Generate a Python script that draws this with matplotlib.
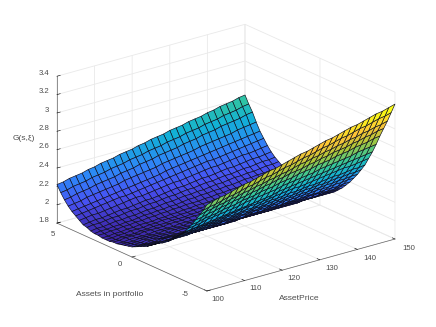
import numpy as np
import matplotlib
matplotlib.use('Agg')
import matplotlib.pyplot as plt
from matplotlib.colors import LinearSegmentedColormap

plt.rcParams['font.family'] = ['Liberation Sans', 'DejaVu Sans']

prices = [100, 101.67, 103.33, 105, 106.67, 108.33, 110, 111.67, 113.33, 115, 116.67, 118.33, 120, 121.67, 123.33, 125,
          126.67, 128.33, 130, 131.67, 133.33, 135, 136.67, 138.33, 140, 141.67, 143.33, 145, 146.67, 148.33, 150]
assets = [5, 4.75, 4.5, 4.25, 4, 3.75, 3.5, 3.25, 3, 2.75, 2.5, 2.25, 2, 1.75, 1.5, 1.25, 1, 0.75, 0.5, 0.25, 0,
          -0.25, -0.5, -0.75, -1, -1.25, -1.5, -1.75, -2, -2.25, -2.5, -2.75, -3, -3.25, -3.5, -3.75, -4, -4.25, -4.5, -4.75, -5]

# G(s,xi) in hundredths, one row per asset value, one column per price
g_table = [
    [222,223,225,226,227,229,230,232,233,234,236,237,238,240,241,243,244,245,247,248,249,251,252,253,255,256,258,259,260,262,263],
    [215,216,218,219,220,222,223,224,226,227,228,230,231,232,234,235,236,238,239,240,242,243,244,246,247,248,250,251,252,254,255],
    [209,210,212,213,214,216,217,218,219,221,222,223,225,226,227,229,230,231,232,234,235,236,238,239,240,242,243,244,245,247,248],
    [204,205,206,208,209,210,211,212,213,215,216,217,218,219,220,222,223,224,225,226,227,229,230,231,232,233,234,236,237,238,239],
    [200,201,202,203,204,205,206,207,208,209,210,211,212,213,214,216,217,218,219,220,221,222,223,224,225,226,227,228,229,230,231],
    [197,198,199,200,201,202,203,204,204,205,206,207,208,209,210,211,212,213,214,215,216,217,217,218,219,220,221,222,223,224,225],
    [194,195,196,196,197,198,199,200,201,202,202,203,204,205,206,207,207,208,209,210,211,212,212,213,214,215,216,216,217,218,219],
    [191,192,193,193,194,195,196,196,197,198,199,199,200,201,202,203,203,204,205,206,206,207,208,209,209,210,211,212,212,213,214],
    [190,191,191,192,193,193,194,195,195,196,197,197,198,199,199,200,201,201,202,203,203,204,205,205,206,207,207,208,209,209,210],
    [188,189,189,190,191,191,192,192,193,194,194,195,196,196,197,198,198,199,199,200,201,201,202,203,203,204,204,205,206,206,207],
    [187,188,188,189,189,190,190,191,192,192,193,193,194,194,195,196,196,197,197,198,198,199,199,200,201,201,202,202,203,203,204],
    [187,187,188,188,189,189,190,190,191,191,192,192,193,193,194,194,194,195,195,196,196,197,197,198,198,199,199,200,200,201,201],
    [186,186,187,187,188,188,189,189,189,190,190,191,191,192,192,193,193,193,194,194,195,195,196,196,196,197,197,198,198,199,199],
    [186,186,187,187,188,188,188,189,189,190,190,190,191,191,192,192,192,193,193,194,194,194,195,195,196,196,196,197,197,198,198],
    [186,186,187,187,187,188,188,189,189,189,190,190,190,191,191,192,192,192,193,193,193,194,194,194,195,195,196,196,196,197,197],
    [187,187,188,188,188,189,189,189,189,190,190,190,191,191,191,192,192,192,192,193,193,193,194,194,194,195,195,195,195,196,196],
    [187,187,188,188,188,188,189,189,189,189,190,190,190,190,191,191,191,192,192,192,192,193,193,193,193,194,194,194,194,195,195],
    [188,188,188,189,189,189,189,190,190,190,190,191,191,191,191,192,192,192,192,192,193,193,193,193,194,194,194,194,194,195,195],
    [189,189,189,190,190,190,190,190,191,191,191,191,191,192,192,192,192,192,193,193,193,193,193,194,194,194,194,194,195,195,195],
    [190,190,190,191,191,191,191,191,192,192,192,192,192,193,193,193,193,193,194,194,194,194,194,195,195,195,195,195,196,196,196],
    [191,191,191,192,192,192,192,192,192,193,193,193,193,193,193,194,194,194,194,194,194,195,195,195,195,195,195,196,196,196,196],
    [193,193,193,193,194,194,194,194,194,194,194,194,194,195,195,195,195,195,195,195,196,196,196,196,196,196,196,197,197,197,197],
    [195,195,195,195,196,196,196,196,196,196,196,196,197,197,197,197,197,197,197,198,198,198,198,198,198,198,199,199,199,199,199],
    [197,197,197,197,197,198,198,198,198,198,198,198,198,198,198,199,199,199,199,199,199,199,199,199,199,200,200,200,200,200,200],
    [199,199,199,199,199,200,200,200,200,200,200,200,200,200,200,201,201,201,201,201,201,201,201,201,201,202,202,202,202,202,202],
    [202,202,202,202,203,203,203,203,203,203,203,203,203,204,204,204,204,204,204,204,205,205,205,205,205,205,205,206,206,206,206],
    [205,205,205,206,206,206,206,206,206,207,207,207,207,207,207,208,208,208,208,208,208,209,209,209,209,209,209,210,210,210,210],
    [208,208,208,209,209,209,209,210,210,210,210,211,211,211,211,212,212,212,212,212,213,213,213,213,214,214,214,214,214,215,215],
    [210,210,211,211,211,212,212,212,213,213,213,214,214,214,215,215,215,216,216,216,217,217,217,218,218,218,219,219,219,220,220],
    [214,214,215,215,216,216,216,217,217,218,218,218,219,219,220,220,220,221,221,222,222,222,223,223,224,224,224,225,225,226,226],
    [217,218,218,219,219,220,220,221,221,222,222,223,223,224,224,225,225,226,226,227,227,228,228,229,229,230,230,231,231,232,232],
    [221,222,222,223,223,224,225,225,226,226,227,228,228,229,229,230,231,231,232,232,233,234,234,235,235,236,237,237,238,238,239],
    [225,226,226,227,228,229,229,230,231,231,232,233,233,234,235,236,236,237,238,238,239,240,240,241,242,243,243,244,245,245,246],
    [229,230,231,232,232,233,234,235,236,237,238,239,239,240,241,242,243,244,245,245,246,247,248,249,250,251,252,252,253,254,255],
    [233,234,235,236,237,238,239,240,241,242,243,244,245,246,247,249,250,251,252,253,254,255,256,257,258,259,260,261,262,263,264],
    [239,240,241,243,244,245,246,247,248,250,251,252,253,254,255,257,258,259,260,261,262,264,265,266,267,268,269,271,272,273,274],
    [245,246,248,249,250,252,253,254,256,257,258,260,261,262,264,265,266,268,269,270,272,273,274,276,277,278,280,281,282,284,285],
    [252,253,255,256,258,259,261,262,263,265,266,268,269,271,272,274,275,276,278,279,281,282,284,285,286,288,289,291,292,294,295],
    [259,261,262,264,265,267,268,270,271,273,274,276,277,279,280,282,284,285,287,288,290,291,293,294,296,297,299,300,302,303,305],
    [266,268,269,271,273,274,276,278,279,281,283,284,286,288,289,291,293,294,296,298,299,301,303,304,306,308,309,311,313,314,316],
    [274,276,278,279,281,283,285,286,288,290,292,293,295,297,299,301,302,304,306,308,309,311,313,315,316,318,320,322,323,325,327],
]

x_ticks = [100, 110, 120, 130, 140, 150]
y_ticks = [-5, 0, 5]
z_ticks = [1.8, 2, 2.2, 2.4, 2.6, 2.8, 3, 3.2, 3.4]
x_labels = ['100', '110', '120', '130', '140', '150']
y_labels = ['-5', '0', '5']
z_labels = ['1.8', '2', '2.2', '2.4', '2.6', '2.8', '3', '3.2', '3.4']

# where the tick labels sit, in pixels from the top left
x_label_px = [(217.7, 299.7), (255.7, 289), (294, 278.7), (332, 269), (370, 258.3), (408.3, 248)]
y_label_px = [(184.7, 295), (119.5, 265), (52.7, 234)]
z_label_py = [220.3, 202.7, 184.3, 165.7, 147, 128.3, 110, 91.3, 73.3]

parula = LinearSegmentedColormap.from_list('parula', [
    (0.2422, 0.1504, 0.6603), (0.2810, 0.3228, 0.9579), (0.1786, 0.5289, 0.9682),
    (0.0689, 0.6948, 0.8394), (0.2161, 0.7843, 0.5923), (0.6720, 0.7793, 0.2227),
    (0.9970, 0.7659, 0.2199), (0.9769, 0.9839, 0.0805)])

S, A = np.meshgrid(prices, assets)
G = np.array(g_table) / 100

fig = plt.figure(figsize=(4.36, 3.27), dpi=100)
ax = fig.add_axes([3.55 / 436, 1.45 / 327, 1, 1], projection='3d', proj_type='ortho', computed_zorder=False)
ax.view_init(elev=20.7, azim=-128)
ax.set_box_aspect((238.6, 243.6, 157), zoom=1.1145)
surf = ax.plot_surface(S, A, G, cmap=parula, edgecolor=(0.05, 0.05, 0.1, 1), linewidth=0.45, rstride=1, cstride=1, shade=False)
surf.set_clip_on(False)  # the 3d axes box is square and would cut the right end
ax.set_xlim(100, 150)
ax.set_ylim(-5, 5)
ax.set_zlim(1.8, 3.4)
ax.set_xticks(x_ticks)
ax.set_yticks(y_ticks)
ax.set_zticks(z_ticks)
ax.set_xticklabels([])
ax.set_yticklabels([])
ax.set_zticklabels([])
for axis in (ax.xaxis, ax.yaxis, ax.zaxis):
    axis.pane.set_visible(False)
    axis.line.set_color('#666666')
    axis.line.set_linewidth(0.5)
    axis._axinfo['grid'].update(color='#e9e9e9', linewidth=0.6)
    axis._axinfo['tick'].update(color='#666666', inward_factor=0, outward_factor=0.22, linewidth={True: 0.4, False: 0.4})

text_color = '#4d4d4d'
for lab, (px, py) in zip(x_labels + y_labels, x_label_px + y_label_px):
    fig.text(px / 436, 1 - py / 327, lab, fontsize=5.6, color=text_color, ha='center', va='center')
for lab, py in zip(z_labels, z_label_py):
    fig.text(49.3 / 436, 1 - py / 327, lab, fontsize=5.6, color=text_color, ha='right', va='center')

fig.text(109.7 / 436, 1 - 294.7 / 327, 'Assets in portfolio', fontsize=6.1, color=text_color, ha='center', va='center')
fig.text(299 / 436, 1 - 298.7 / 327, 'AssetPrice', fontsize=6.1, color=text_color, ha='center', va='center')
fig.text(23.7 / 436, 1 - 139 / 327, 'G(s,ξ)', fontsize=6.1, color=text_color, ha='center', va='center')
fig.savefig('out.png', dpi=100)
